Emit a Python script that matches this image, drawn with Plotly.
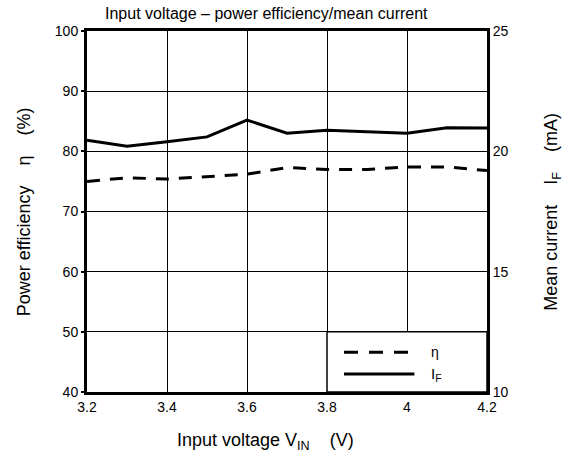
import plotly.graph_objects as go

# Data
vin = [3.2, 3.3, 3.4, 3.5, 3.6, 3.7, 3.8, 3.9, 4.0, 4.1, 4.2]
efficiency = [75.0, 75.6, 75.4, 75.8, 76.2, 77.3, 77.0, 77.0, 77.4, 77.4, 76.8]
mean_current = [20.46, 20.21, 20.40, 20.60, 21.30, 20.75, 20.88, 20.80, 20.75, 20.98, 20.97]

x_ticks = [3.2, 3.4, 3.6, 3.8, 4.0, 4.2]
x_tick_labels = ["3.2", "3.4", "3.6", "3.8", "4", "4.2"]
y_ticks = [40, 50, 60, 70, 80, 90, 100]
y2_ticks = [10, 15, 20, 25]

FONT = "Liberation Sans, Arial, sans-serif"
NB = "\u00a0"

fig = go.Figure()
fig.add_trace(go.Scatter(
    x=vin, y=efficiency, mode="lines", name="η",
    line=dict(color="black", width=3, dash="13px,10px"),
    yaxis="y", showlegend=False,
))
fig.add_trace(go.Scatter(
    x=vin, y=mean_current, mode="lines", name="IF",
    line=dict(color="black", width=3),
    yaxis="y2", showlegend=False,
))

fig.update_layout(
    width=565, height=460,
    margin=dict(l=87, r=78, t=31, b=68),
    paper_bgcolor="white", plot_bgcolor="white",
    font=dict(family=FONT, color="black", size=14),
    xaxis=dict(
        range=[3.2, 4.2], tickvals=x_ticks, ticktext=x_tick_labels,
        showgrid=True, gridcolor="black", gridwidth=1.4,
        showline=True, linecolor="black", linewidth=3, mirror=True,
        ticks="", zeroline=False, tickfont=dict(size=14),
    ),
    yaxis=dict(
        range=[40, 100], tickvals=y_ticks,
        showgrid=True, gridcolor="black", gridwidth=1.4,
        showline=True, linecolor="black", linewidth=3,
        ticks="outside", ticklen=3, tickwidth=1.5, tickcolor="black",
        zeroline=False, tickfont=dict(size=14),
    ),
    yaxis2=dict(
        range=[10, 25], tickvals=y2_ticks, overlaying="y", side="right",
        showgrid=False, showline=True, linecolor="black", linewidth=3,
        ticks="", zeroline=False, tickfont=dict(size=14),
    ),
)

# Legend box (drawn manually to match the reference)
fig.add_shape(type="rect", xref="paper", yref="paper",
              x0=0.6, x1=1.0, y0=0.0, y1=1/6,
              fillcolor="white", line=dict(color="black", width=1.5), layer="above")
fig.add_shape(type="line", xref="paper", yref="paper",
              x0=0.6425, x1=0.807, y0=0.110, y1=0.110,
              line=dict(color="black", width=3, dash="14px,11px"))
fig.add_shape(type="line", xref="paper", yref="paper",
              x0=0.6425, x1=0.8185, y0=0.050, y1=0.050,
              line=dict(color="black", width=3))
fig.add_annotation(xref="paper", yref="paper", x=0.855, y=0.110,
                   text="η", showarrow=False, xanchor="left", yanchor="middle",
                   font=dict(size=14))
fig.add_annotation(xref="paper", yref="paper", x=0.855, y=0.048,
                   text="I<sub>F</sub>", showarrow=False, xanchor="left", yanchor="middle",
                   font=dict(size=15))

# Title and axis titles
fig.add_annotation(xref="paper", yref="paper", x=0.4497, y=(392 - 13) / 361,
                   text="Input voltage – power efficiency/mean current",
                   showarrow=False, xanchor="center", yanchor="middle",
                   font=dict(size=16))
fig.add_annotation(xref="paper", yref="paper", x=0.447, y=(392 - 441) / 361,
                   text="Input voltage V<sub>IN</sub>" + NB * 4 + "(V)",
                   showarrow=False, xanchor="center", yanchor="middle",
                   font=dict(size=18))
fig.add_annotation(xref="paper", yref="paper", x=(24 - 87) / 398, y=0.5,
                   text="Power efficiency" + NB * 4 + "η" + NB * 4 + "(%)",
                   textangle=-90, showarrow=False, xanchor="center", yanchor="middle",
                   font=dict(size=18))
fig.add_annotation(xref="paper", yref="paper", x=(550 - 87) / 398, y=0.5,
                   text="Mean current" + NB * 4 + "I<sub>F</sub>" + NB * 4 + "(mA)",
                   textangle=-90, showarrow=False, xanchor="center", yanchor="middle",
                   font=dict(size=18))

fig.write_html("out.html",
               config={"displayModeBar": False},
               post_script="document.body.style.margin='0';document.body.style.overflow='hidden';")
